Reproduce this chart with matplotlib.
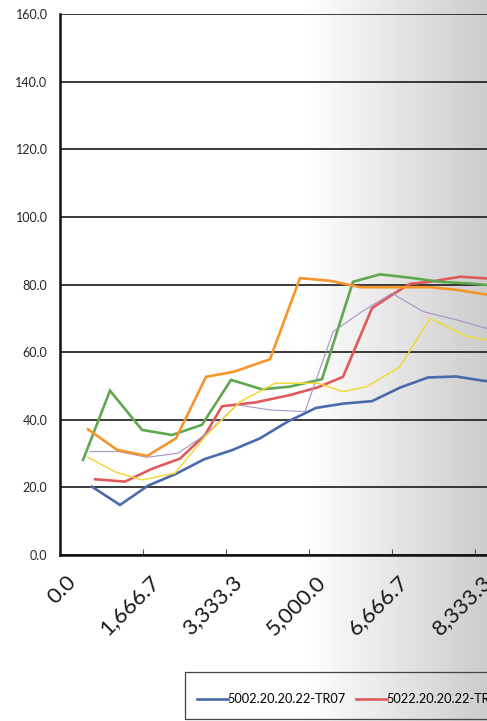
import numpy as np
import matplotlib
matplotlib.use("Agg")
import matplotlib.pyplot as plt
from matplotlib.patches import Rectangle
from matplotlib.transforms import ScaledTranslation
from matplotlib.ticker import FuncFormatter, MultipleLocator

# ---- data -------------------------------------------------------------
series_names = [
    "5002.20.20.22-TR07",
    "5022.20.20.22-TR07",
    "5032.20.20.22-TR07",
    "5042.20.20.22-TR07",
    "5052.20.20.22-TR07",
    "5062.20.20.22-TR07",
]

blue_x = [643, 1205, 1767, 2329, 2892, 3454, 4016, 4578, 5140, 5703, 6265, 6827, 7389, 7952, 8514, 9076]
blue_y = [20.2, 14.8, 20.5, 24.0, 28.3, 31.0, 34.5, 39.5, 43.5, 44.8, 45.5, 49.5, 52.5, 52.8, 51.5, 51.0]

red_x = [703, 1305, 1847, 2410, 2912, 3253, 3916, 4618, 5181, 5683, 6265, 6727, 7028, 7430, 8032, 8574, 9136]
red_y = [22.4, 21.7, 25.5, 28.5, 35.5, 44.0, 45.1, 47.3, 49.6, 52.7, 73.0, 77.5, 80.2, 80.8, 82.3, 81.8, 81.5]

green_x = [462, 1004, 1647, 2249, 2851, 3434, 4056, 4618, 5261, 5883, 6426, 7028, 7630, 8233, 8835]
green_y = [28.1, 48.6, 37.0, 35.5, 38.5, 51.8, 49.0, 49.8, 52.0, 80.8, 83.0, 82.0, 80.8, 80.3, 79.5]

purple_x = [602, 1165, 1747, 2369, 2912, 3554, 4217, 4920, 5482, 6064, 6667, 7289, 7972, 8574, 9036]
purple_y = [30.6, 30.6, 28.9, 30.1, 35.5, 44.4, 42.9, 42.4, 66.0, 72.0, 77.4, 72.0, 69.5, 67.0, 66.0]

yellow_x = [562, 1104, 1647, 2309, 2912, 3614, 4317, 5181, 5683, 6165, 6827, 7430, 8173, 8574, 9036]
yellow_y = [28.9, 24.6, 22.2, 24.2, 35.0, 45.3, 50.8, 50.8, 48.3, 49.8, 55.7, 70.0, 64.6, 63.6, 63.0]

orange_x = [562, 1145, 1747, 2329, 2932, 3494, 4217, 4819, 5422, 6024, 6626, 7430, 7972, 8574, 9136]
orange_y = [37.2, 31.1, 29.3, 34.5, 52.7, 54.2, 57.9, 81.9, 81.1, 79.2, 79.2, 79.2, 78.4, 77.0, 76.0]

x_max = 10000.0
x_step = 10000.0 / 6
y_max = 160.0
y_step = 20.0

# ---- styling ----------------------------------------------------------
plt.rcParams["font.family"] = ["Lato", "DejaVu Sans"]

styles = [
    (blue_x, blue_y, "#4a6aad", 1.9),
    (red_x, red_y, "#e0595c", 1.9),
    (green_x, green_y, "#5fa84f", 1.9),
    (purple_x, purple_y, "#a495c4", 0.8),
    (yellow_x, yellow_y, "#f2d93a", 1.1),
    (orange_x, orange_y, "#f7952a", 1.9),
]

W, H = 487, 721
fig = plt.figure(figsize=(W / 100, H / 100), dpi=100)

# background: white fading to light grey towards the right edge
bg = fig.add_axes([0, 0, 1, 1], zorder=-10)
cols = np.linspace(0, 1, W)
shade = np.where(cols < 0.62, 1.0, 1.0 - (cols - 0.62) / 0.38 * 0.20)
bg.imshow(np.tile(shade, (10, 1)), cmap="gray", vmin=0, vmax=1,
          aspect="auto", extent=[0, 1, 0, 1])
bg.set_axis_off()

left, bottom, top = 60 / W, (H - 555) / H, (H - 14) / H
ax = fig.add_axes([left, bottom, (x_max / (x_step / 83.0)) / W, top - bottom])
ax.set_facecolor("none")

lines = []
for (xs, ys, c, lw), name in zip(styles, series_names):
    ln, = ax.plot(xs, ys, color=c, lw=lw, label=name, solid_joinstyle="miter")
    lines.append(ln)

ax.set_xlim(0, x_max)
ax.set_ylim(0, y_max)
ax.xaxis.set_major_locator(MultipleLocator(x_step))
ax.yaxis.set_major_locator(MultipleLocator(y_step))
ax.xaxis.set_major_formatter(FuncFormatter(lambda v, p: f"{v:,.1f}"))
ax.yaxis.set_major_formatter(FuncFormatter(lambda v, p: f"{v:.1f}"))

ax.grid(axis="y", color="#1a1a1a", lw=1.2)
ax.set_axisbelow(True)
for s in ["top", "right"]:
    ax.spines[s].set_visible(False)
for s in ["left", "bottom"]:
    ax.spines[s].set_linewidth(1.8)
    ax.spines[s].set_color("#111111")

ax.tick_params(axis="y", length=0, pad=9, labelsize=9, labelcolor="#262626")
ax.tick_params(axis="x", direction="in", length=4, width=0.8, color="#555555",
               labelsize=16, labelcolor="#1a1a1a", pad=12)
shift = ScaledTranslation(6 / 100, 0, fig.dpi_scale_trans)
for lab in ax.get_xticklabels():
    lab.set_rotation(45)
    lab.set_ha("right")
    lab.set_va("top")
    lab.set_rotation_mode("anchor")
    lab.set_transform(lab.get_transform() + shift)

# legend strip along the bottom
box_x0, box_y0 = 185 / W, 1 - 719 / H
fig.patches.append(Rectangle((box_x0, box_y0), 0.8, 47 / H, transform=fig.transFigure,
                             fill=False, edgecolor="#444444", lw=0.9))
fig.legend(handles=lines, loc="center left",
           bbox_to_anchor=(box_x0 + 3 / W, 1 - 699 / H), ncol=6, frameon=False,
           fontsize=9.2, handlelength=2.4, handletextpad=0.0, columnspacing=0.8,
           borderpad=0.2)

fig.savefig("out.png", dpi=100)
